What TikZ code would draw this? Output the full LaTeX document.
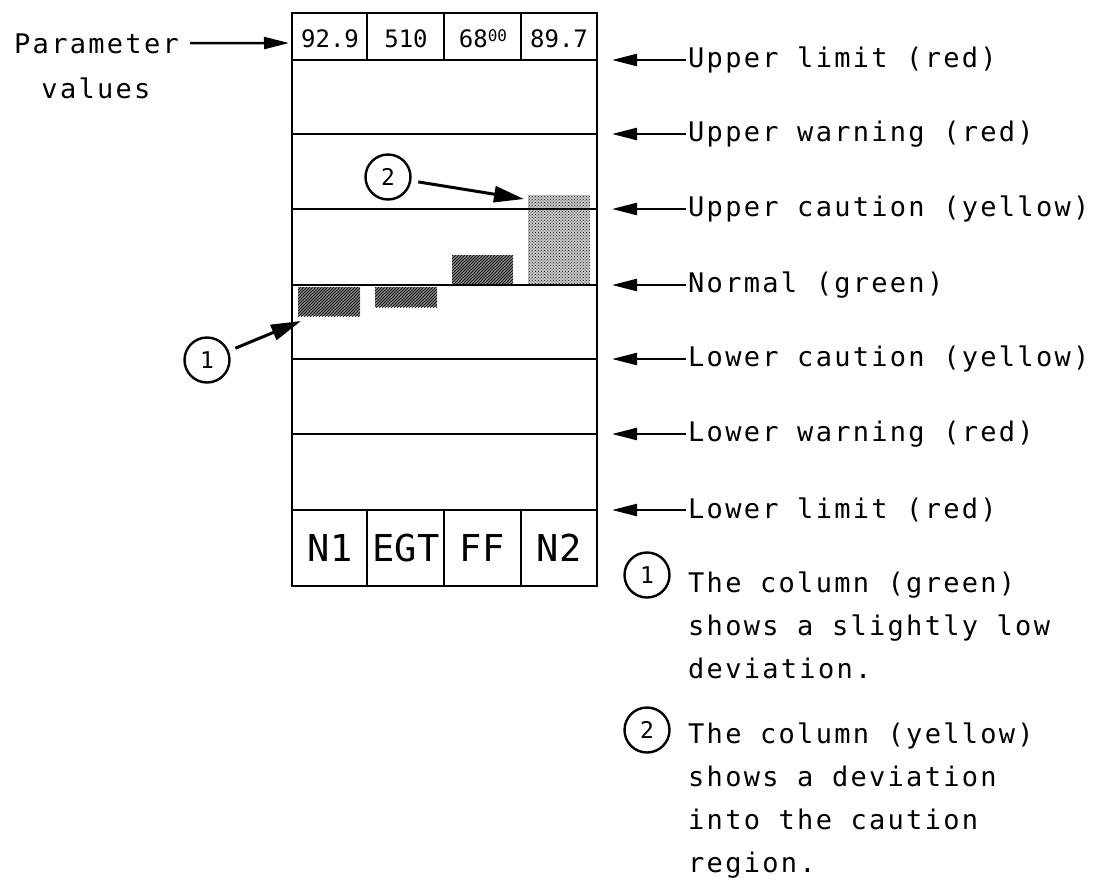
\documentclass[tikz,border=0pt]{standalone}
\usepackage{fontspec}
\setmonofont{DejaVu Sans Mono}
\newfontfamily\chartfont[LetterSpace=8.5]{DejaVu Sans Mono}
\usetikzlibrary{arrows.meta,patterns}

\begin{document}
\begin{tikzpicture}[x=1pt, y=-1pt,
    lbl/.style={font=\chartfont\fontsize{27}{43}\selectfont, inner sep=2pt},
    valtxt/.style={font=\ttfamily\fontsize{24}{24}\selectfont, minimum width=74pt,
        text height=17pt, text depth=0pt, inner sep=0pt},
    parmtxt/.style={font=\ttfamily\fontsize{37}{37}\selectfont, minimum width=74pt,
        text height=27pt, text depth=0pt, inner sep=0pt},
    callout/.style={circle, draw, line width=2.4pt, minimum size=45pt, inner sep=0pt,
        font=\ttfamily\fontsize{23}{23}\selectfont},
    ptr/.style={line width=2.4pt, -{Triangle[length=25pt,width=12pt]}},
    bigptr/.style={line width=3pt, -{Triangle[length=30pt,width=16pt]}, shorten <=7pt},
    frame/.style={line width=2.7pt},
    darkbar/.style={fill=black!50, postaction={pattern=north east lines}},
    lightbar/.style={fill=black!22, postaction={pattern=crosshatch dots, pattern color=black!90}}]

    \useasboundingbox (0,0) rectangle (1104,879);

    % bars
    \path[darkbar] (298,287) rectangle (360,316);
    \path[darkbar] (375,287) rectangle (437,307);
    \path[darkbar] (452,255) rectangle (513,285);
    \path[lightbar] (528,195) rectangle (590,285);

    % display frame
    \draw[frame] (292,13) rectangle (597,586);
    \draw[frame] (292,60) -- (597,60);
    \draw[frame] (292,134) -- (597,134);
    \draw[frame] (292,209) -- (597,209);
    \draw[frame] (292,285) -- (597,285);
    \draw[frame] (292,359) -- (597,359);
    \draw[frame] (292,434) -- (597,434);
    \draw[frame] (292,510) -- (597,510);

    \draw[frame] (367,13) -- (367,60);
    \draw[frame] (444,13) -- (444,60);
    \draw[frame] (521,13) -- (521,60);
    \draw[frame] (367,510) -- (367,586);
    \draw[frame] (444,510) -- (444,586);
    \draw[frame] (521,510) -- (521,586);

    % values and parameter names
    \node[valtxt] (v1) at (330,39) {92.9};
    \node[valtxt] (v2) at (406,39) {510};
    \node[valtxt] (v3) at (483,39) {68\raisebox{6pt}{\fontsize{16}{16}\selectfont 00}};
    \node[valtxt] (v4) at (559,39) {89.7};

    \node[parmtxt] (n1) at (330,548) {N1};
    \node[parmtxt] (egt) at (406,548) {EGT};
    \node[parmtxt] (ff) at (482,548) {FF};
    \node[parmtxt] (n2) at (559,548) {N2};

    % left label
    \node[lbl, anchor=base west] (par) at (12,53) {Parameter};
    \node[lbl, anchor=base] (vals) at (96,98) {values};
    \coordinate (tp) at (289,43);
    \draw[ptr, shorten <=9pt] (par) -- (tp);

    % limit labels
    \coordinate (t1) at (612,60);
    \node[lbl, anchor=west] (l1) at (686,60) {Upper limit (red)};
    \draw[ptr] (l1) -- (t1);

    \coordinate (t2) at (612,134);
    \node[lbl, anchor=west] (l2) at (686,134) {Upper warning (red)};
    \draw[ptr] (l2) -- (t2);

    \coordinate (t3) at (612,209);
    \node[lbl, anchor=west] (l3) at (686,209) {Upper caution (yellow)};
    \draw[ptr] (l3) -- (t3);

    \coordinate (t4) at (612,285);
    \node[lbl, anchor=west] (l4) at (686,285) {Normal (green)};
    \draw[ptr] (l4) -- (t4);

    \coordinate (t5) at (612,359);
    \node[lbl, anchor=west] (l5) at (686,359) {Lower caution (yellow)};
    \draw[ptr] (l5) -- (t5);

    \coordinate (t6) at (612,434);
    \node[lbl, anchor=west] (l6) at (686,434) {Lower warning (red)};
    \draw[ptr] (l6) -- (t6);

    \coordinate (t7) at (612,510);
    \node[lbl, anchor=west] (l7) at (686,510) {Lower limit (red)};
    \draw[ptr] (l7) -- (t7);

    % callouts
    \node[callout] (c1) at (207,360) {1};
    \coordinate (b1) at (301,321);
    \draw[bigptr] (c1) -- (b1);

    \node[callout] (c2) at (388,177) {2};
    \coordinate (b2) at (524,199);
    \draw[bigptr] (c2) -- (b2);

    % notes
    \node[callout] (m1) at (647,575) {1};
    \node[lbl, anchor=north west, align=left] (note1) at (686,570)
        {The column (green)\\shows a slightly low\\deviation.};

    \node[callout] (m2) at (647,730) {2};
    \node[lbl, anchor=north west, align=left] (note2) at (686,721)
        {The column (yellow)\\shows a deviation\\into the caution\\region.};
\end{tikzpicture}
\end{document}
